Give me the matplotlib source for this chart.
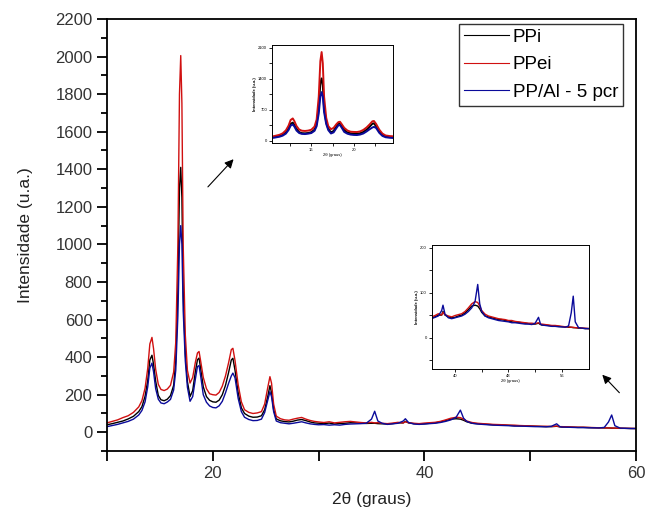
import numpy as np
import matplotlib
matplotlib.use("Agg")
import matplotlib.pyplot as plt
from matplotlib.ticker import MultipleLocator, FixedLocator

plt.rcParams['font.family'] = ['Liberation Sans', 'DejaVu Sans']

# 2theta (graus)
two_theta = [10, 10.5, 11, 11.5, 12, 12.5, 13, 13.3, 13.6, 13.85, 14.05, 14.25, 14.4, 14.6, 14.85, 15.1, 15.4, 15.7,
             16.0, 16.3, 16.5, 16.7, 16.85, 16.97, 17.08, 17.2, 17.4, 17.6, 17.85, 18.1, 18.35, 18.55, 18.7, 18.85,
             19.1, 19.4, 19.7, 20.0, 20.3, 20.6, 20.9, 21.2, 21.5, 21.75, 21.9, 22.1, 22.4, 22.7, 23.0, 23.4,
             23.8, 24.2, 24.6, 24.9, 25.2, 25.4, 25.55, 25.75, 26.0, 26.4, 26.8, 27.2, 27.6, 28.0, 28.4, 28.8,
             29.2, 29.6, 30.0, 30.5, 31.0, 31.5, 32.0, 32.5, 33.0, 33.5, 34.0, 34.5, 35.0, 35.3, 35.6, 36.0,
             36.5, 37.0, 37.5, 38.0, 38.2, 38.5, 39.0, 39.5, 40.0, 40.5, 41.0, 41.5, 42.0, 42.5, 43.0, 43.4,
             43.7, 44.0, 44.5, 45.0, 45.5, 46.0, 46.5, 47.0, 47.5, 48.0, 48.5, 49.0, 49.5, 50.0, 50.5, 51.0,
             51.5, 52.0, 52.5, 52.8, 53.0, 53.5, 54.0, 54.5, 55.0, 55.5, 56.0, 56.5, 57.0, 57.4, 57.7, 58.0,
             58.5, 59.0, 59.5, 60.0]

ppei = [50, 58, 66, 78, 88, 106, 135, 168, 235, 340, 470, 505, 445, 335, 255, 228, 222, 230,
        250, 320, 480, 1000, 1800, 2005, 1750, 1000, 520, 330, 262, 292, 372, 422, 430, 380,
        292, 232, 205, 200, 198, 212, 246, 300, 372, 440, 447, 382, 252, 162, 120, 106,
        100, 103, 110, 150, 240, 296, 262, 150, 86, 72, 66, 64, 70, 75, 79, 70,
        63, 58, 55, 52, 56, 50, 53, 56, 58, 55, 52, 50, 53, 50, 51, 48,
        46, 49, 53, 50, 56, 51, 48, 46, 49, 51, 53, 58, 66, 75, 80, 78,
        70, 60, 52, 48, 46, 44, 42, 41, 40, 38, 38, 36, 35, 34, 33, 32,
        32, 31, 33, 30, 30, 29, 28, 27, 27, 26, 25, 24, 24, 23, 23, 22,
        22, 21, 21, 20]

ppi = [40, 46, 53, 60, 71, 85, 110, 136, 192, 275, 385, 410, 362, 272, 196, 173, 168, 176,
       195, 250, 380, 760, 1300, 1410, 1250, 750, 420, 270, 190, 222, 322, 386, 395, 340,
       242, 190, 170, 162, 160, 171, 200, 250, 320, 385, 394, 330, 210, 130, 100, 86,
       80, 81, 88, 120, 192, 248, 212, 120, 71, 61, 57, 55, 59, 65, 68, 62,
       55, 50, 48, 46, 49, 44, 47, 48, 51, 50, 48, 47, 48, 48, 46, 45,
       44, 46, 50, 50, 58, 50, 46, 44, 45, 48, 50, 55, 62, 70, 72, 70,
       64, 56, 48, 46, 44, 42, 40, 40, 38, 37, 35, 34, 34, 33, 32, 31,
       30, 30, 32, 29, 28, 28, 27, 26, 26, 25, 24, 24, 23, 23, 22, 22,
       21, 21, 20, 20]

pp_al = [30, 36, 42, 50, 58, 70, 92, 116, 162, 242, 342, 368, 322, 232, 176, 156, 152, 161,
         175, 225, 330, 620, 1000, 1100, 1000, 650, 380, 240, 165, 190, 282, 350, 355, 300,
         200, 160, 140, 132, 130, 141, 165, 210, 262, 300, 315, 290, 180, 110, 80, 68,
         62, 63, 70, 105, 172, 216, 190, 110, 60, 51, 48, 45, 48, 52, 56, 50,
         45, 42, 40, 41, 38, 40, 38, 42, 44, 45, 46, 48, 70, 112, 60, 48,
         42, 45, 48, 60, 72, 52, 44, 42, 44, 46, 48, 52, 58, 66, 80, 118,
         75, 58, 48, 44, 42, 40, 38, 37, 36, 35, 33, 33, 32, 31, 30, 30,
         29, 32, 45, 30, 28, 27, 26, 25, 25, 24, 24, 23, 26, 55, 92, 35,
         22, 21, 20, 20]

labels = ["PPi", "PPei", "PP/Al - 5 pcr"]
colors = ["#000000", "#d01010", "#0a0a9a"]
series = [ppi, ppei, pp_al]

fig = plt.figure(figsize=(6.54, 5.12), dpi=100)
ax = fig.add_axes([0.1636, 0.119, 0.8089, 0.844])

for ys, c, lab in zip(series, colors, labels):
    ax.plot(two_theta, ys, color=c, lw=1, label=lab)

ax.set_xlim(10, 60)
ax.set_ylim(-100, 2200)
ax.xaxis.set_major_locator(FixedLocator([20, 40, 60]))
ax.xaxis.set_minor_locator(FixedLocator([10, 30, 50]))
ax.yaxis.set_major_locator(MultipleLocator(200))
ax.yaxis.set_minor_locator(MultipleLocator(100))
ax.tick_params(which='major', direction='out', length=7, width=1.3, labelsize=12, labelcolor='#333333')
ax.tick_params(which='minor', direction='out', length=4, width=1.3)
ax.tick_params(axis='x', which='minor', length=7)
for s in ax.spines.values():
    s.set_linewidth(1.3)
ax.set_xlabel('2θ (graus)', size=12.5, color='#222222', labelpad=8)
ax.set_ylabel('Intensidade (u.a.)', size=12.5, color='#222222', labelpad=16)

leg = ax.legend(loc='upper right', bbox_to_anchor=(0.975, 0.988), fontsize=13.5, frameon=True,
                fancybox=False, edgecolor='black', handlelength=2.4, handletextpad=0.2,
                borderpad=0.25, labelspacing=0.55, borderaxespad=0)
leg.get_frame().set_linewidth(1.0)
for l in leg.get_lines():
    l.set_linewidth(0.8)

# inset 1 (main peaks)
ins1 = fig.add_axes([0.416, 0.7207, 0.185, 0.191])
for ys, c in zip(series, colors):
    ins1.plot(two_theta, ys, color=c, lw=1.4)
ins1.set_xlim(12.3, 23.7)
ins1.set_ylim(-50, 2160)
ins1.xaxis.set_major_locator(FixedLocator([16, 20]))
ins1.xaxis.set_minor_locator(FixedLocator([14, 18, 22]))
ins1.yaxis.set_major_locator(MultipleLocator(700))
ins1.yaxis.set_minor_locator(MultipleLocator(350))
ins1.tick_params(which='both', direction='out', length=2, width=0.6, labelsize=3, pad=1.5)
ins1.set_ylabel('Intensidade (u.a.)', size=3, weight='bold', labelpad=1)
ins1.set_xlabel('2θ (graus)', size=3, labelpad=1)
for s in ins1.spines.values():
    s.set_linewidth(0.7)

# inset 2 (high angle region)
ins2 = fig.add_axes([0.660, 0.279, 0.240, 0.242])
for ys, c in zip(series, colors):
    ins2.plot(two_theta, ys, color=c, lw=1.0)
ins2.set_xlim(36.5, 60.0)
ins2.set_ylim(-70, 205)
ins2.xaxis.set_major_locator(FixedLocator([40, 48, 56]))
ins2.xaxis.set_minor_locator(FixedLocator([44, 52]))
ins2.yaxis.set_major_locator(MultipleLocator(100))
ins2.yaxis.set_minor_locator(MultipleLocator(50))
ins2.tick_params(which='both', direction='out', length=2, width=0.6, labelsize=3, pad=1.5)
ins2.set_ylabel('Intensidade (u.a.)', size=3, weight='bold', labelpad=1)
ins2.set_xlabel('2θ (graus)', size=3, labelpad=1)
for s in ins2.spines.values():
    s.set_linewidth(0.7)

# arrows
fig.add_artist(matplotlib.patches.FancyArrowPatch((0.315, 0.631), (0.360, 0.693),
               transform=fig.transFigure, arrowstyle='-|>', mutation_scale=13, lw=0.8, color='black'))
fig.add_artist(matplotlib.patches.FancyArrowPatch((0.950, 0.229), (0.918, 0.272),
               transform=fig.transFigure, arrowstyle='-|>', mutation_scale=13, lw=0.8, color='black'))

fig.savefig("out.png", dpi=100)
